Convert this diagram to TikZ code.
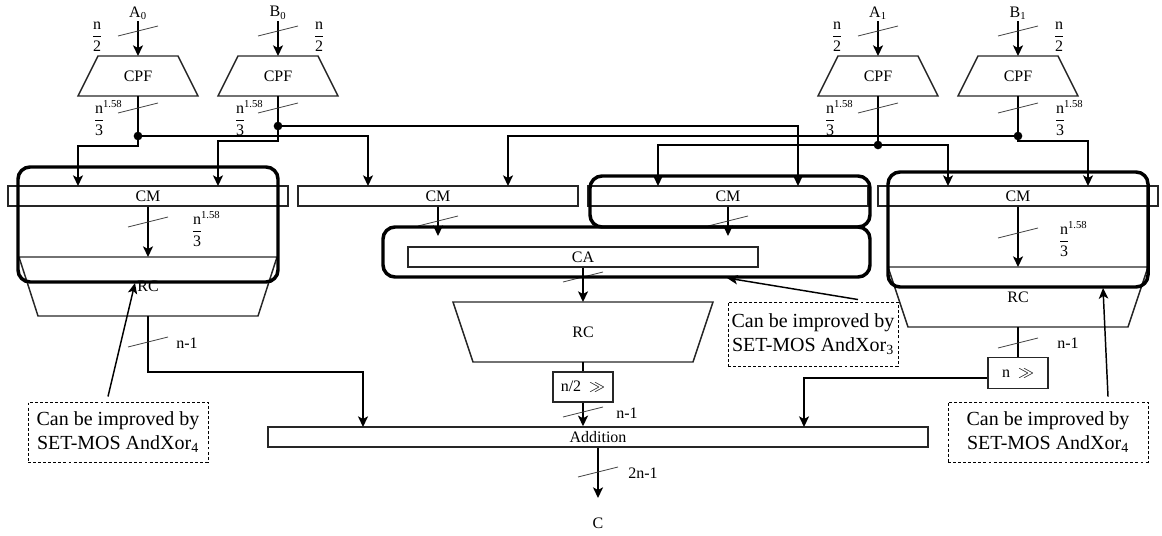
\documentclass[tikz,border=0pt]{standalone}
\usepackage{fontspec}
\setmainfont{Liberation Serif}
\usetikzlibrary{arrows.meta,calc}

\newcommand\lbl{\fontsize{12}{14}\selectfont}
\newcommand\notefont{\fontsize{15}{18}\selectfont}
% n over d, stacked
\newcommand\fr[2]{$\displaystyle\frac{\mbox{#1}}{\mbox{#2}}$}
% n^{1.58} over 3, the exponent hanging past the bar
\newcommand\nexp{$\displaystyle\frac{\mbox{n\rlap{\textsuperscript{1.58}}}}{\mbox{3}}$}
% trapezoid block: name, centre x, top y, bottom y, half top, half bottom, text
\newcommand\trapz[7]{%
  \draw[outline] (#2-#5,#3) -- (#2+#5,#3) -- (#2+#6,#4) -- (#2-#6,#4) -- cycle;
  \node[txt] (#1) at (#2,{(#3+#4)/2}) {#7};
  \coordinate (#1-n) at (#2,#3);
  \coordinate (#1-s) at (#2,#4);}
% bus-width slash across a vertical wire
\newcommand\busmark[2]{\draw[busline] (#1-20,#2+5) -- (#1+20,#2-5);}

\begin{document}
\begin{tikzpicture}[x=0.75pt,y=-0.75pt,
  wire/.style={line width=1.2pt},
  arr/.style={wire,-{Stealth[length=8pt,width=7.5pt,inset=2pt]}},
  outline/.style={draw=black!85,line width=1.1pt},
  box/.style={outline,inner sep=0pt,font=\lbl},
  busline/.style={line width=0.6pt,black!75},
  hl/.style={line width=2.6pt,rounded corners=9pt},
  note/.style={draw,dash pattern=on 2.2pt off 1.6pt,line width=0.7pt,inner sep=0pt,font=\notefont,align=center},
  ptr/.style={line width=1.1pt,-{Stealth[length=8pt,width=7pt,inset=2pt]}},
  dot/.style={circle,fill,inner sep=0pt,minimum size=6.5pt},
  txt/.style={font=\lbl,inner sep=1pt}]

\useasboundingbox (0,0) rectangle (1162,535);

% ---- operand splitters
\trapz{cpfA0}{138}{56}{96}{40}{60}{CPF}
\trapz{cpfB0}{278}{56}{96}{40}{60}{CPF}
\trapz{cpfA1}{878}{56}{96}{40}{60}{CPF}
\trapz{cpfB1}{1018}{56}{96}{40}{60}{CPF}

\node[txt] (lA0) at (138,13) {A\textsubscript{0}};
\node[txt] (lB0) at (278,13) {B\textsubscript{0}};
\node[txt] (lA1) at (878,13) {A\textsubscript{1}};
\node[txt] (lB1) at (1018,13) {B\textsubscript{1}};
\draw[arr] (lA0) -- (cpfA0-n);
\draw[arr] (lB0) -- (cpfB0-n);
\draw[arr] (lA1) -- (cpfA1-n);
\draw[arr] (lB1) -- (cpfB1-n);
\busmark{138}{31}\busmark{278}{31}\busmark{878}{31}\busmark{1018}{31}
\node[txt] (wA0) at (97,37) {\fr{n}{2}};
\node[txt] (wB0) at (319,37) {\fr{n}{2}};
\node[txt] (wA1) at (837,37) {\fr{n}{2}};
\node[txt] (wB1) at (1059,37) {\fr{n}{2}};

% ---- fan-out points
\node[dot] (dA0) at (138,136) {};
\node[dot] (dB0) at (278,126) {};
\node[dot] (dA1) at (878,145) {};
\node[dot] (dB1) at (1018,136) {};
\draw[wire] (cpfA0-s) -- (dA0.center);
\draw[wire] (cpfB0-s) -- (dB0.center);
\draw[wire] (cpfA1-s) -- (dA1.center);
\draw[wire] (cpfB1-s) -- (dB1.center);
\busmark{138}{108}\busmark{278}{108}\busmark{878}{108}\busmark{1018}{108}
\node[txt] (oA0) at (99,118) {\nexp};
\node[txt] (oB0) at (240,118) {\nexp};
\node[txt] (oA1) at (830,118) {\nexp};
\node[txt] (oB1) at (1060,118) {\nexp};

% ---- partial multipliers
\node[box,minimum width=210pt,minimum height=15pt] (cm1) at (148,196) {CM};
\node[box,minimum width=210pt,minimum height=15pt] (cm2) at (438,196) {CM};
\node[box,minimum width=210pt,minimum height=15pt] (cm3) at (728,196) {CM};
\node[box,minimum width=210pt,minimum height=15pt] (cm4) at (1018,196) {CM};
\coordinate (cm1a) at (78,186);  \coordinate (cm1b) at (218,186);
\coordinate (cm2a) at (368,186); \coordinate (cm2b) at (508,186);
\coordinate (cm3a) at (658,186); \coordinate (cm3b) at (798,186);
\coordinate (cm4a) at (948,186); \coordinate (cm4b) at (1088,186);

\draw[arr] (dA0.center) -- ++(0,10) -| (cm1a);
\draw[arr] (dA0.center) -| (cm2a);
\draw[arr] (dB0.center) -- ++(0,15) -| (cm1b);
\draw[arr] (dB0.center) -| (cm3b);
\draw[arr] (dA1.center) -| (cm3a);
\draw[arr] (dA1.center) -| (cm4a);
\draw[arr] (dB1.center) -| (cm2b);
\draw[arr] (dB1.center) -- ++(0,5) -| (cm4b);

% ---- reduction stages
\trapz{rc1}{148}{257}{316}{129}{110}{RC}
\trapz{rc2}{583}{302}{362}{130}{110}{RC}
\trapz{rc4}{1018}{267}{327}{130}{110}{RC}
\node[box,minimum width=262.5pt,minimum height=15pt] (ca) at (583,257) {CA};
\coordinate (caL) at (438,236);
\coordinate (caR) at (728,236);

\draw[arr] (cm1.south) -- (rc1-n);
\draw[arr] (cm2.south) -- (caL);
\draw[arr] (cm3.south) -- (caR);
\draw[arr] (cm4.south) -- (rc4-n);
\draw[arr] (ca.south) -- (rc2-n);
\busmark{148}{222}\busmark{438}{221}\busmark{728}{221}\busmark{1018}{233}\busmark{583}{277}
\node[txt] (oC1) at (197,229) {\nexp};
\node[txt] (oC4) at (1064,239) {\nexp};

% ---- shifters and final adder
\node[box,minimum width=45pt,minimum height=22.5pt] (sh2) at (583,387) {n/2~~$\gg$};
\node[box,minimum width=45pt,minimum height=23pt] (sh1) at (1018,373) {n~~$\gg$};
\node[box,minimum width=495pt,minimum height=15pt] (add) at (598,437) {Addition};
\coordinate (adL) at (363,427);
\coordinate (adR) at (804,427);
\coordinate (cOut) at (598,498);

\draw[wire] (rc2-s) -- (sh2.north);
\draw[wire] (rc4-s) -- (sh1.north);
\draw[arr] (sh2.south) -- (add.north -| sh2.south);
\draw[arr] (rc1-s) -- ++(0,56) -| (adL);
\draw[arr] ([yshift=-3.75pt]sh1.west) -| (adR);
\draw[arr] (add.south) -- (cOut);
\busmark{148}{342}\busmark{1018}{343}\busmark{583}{412}\busmark{598}{472}
\node[txt] (r1) at (187,343) {n-1};
\node[txt] (r4) at (1068,343) {n-1};
\node[txt] (r2) at (627,413) {n-1};
\node[txt] (rs) at (643,473) {2n-1};
\node[txt] (lC) at (598,523) {C};

% ---- highlighted regions
\draw[hl] (18,167) rectangle (278,282);
\draw[hl] (590,176) rectangle (870,227);
\draw[hl] (383,227) rectangle (870,277);
\draw[hl] (888,172) rectangle (1148,287);

% ---- notes
\node[note,minimum width=135pt,minimum height=45pt] (note1) at (118,432) {Can be improved by\\SET-MOS AndXor\textsubscript{4}};
\node[note,minimum width=127.5pt,minimum height=48pt] (note2) at (813,334) {Can be improved by\\SET-MOS AndXor\textsubscript{3}};
\node[note,minimum width=150pt,minimum height=45pt] (note3) at (1048,432) {Can be improved by\\SET-MOS AndXor\textsubscript{4}};
\coordinate (p1) at (135,283);
\coordinate (p2) at (727,278);
\coordinate (p3) at (1103,288);
\draw[ptr] ($(note1.north)+(-10,-5)$) -- (p1);
\draw[ptr] ($(note2.north)+(45,-2)$) -- (p2);
\draw[ptr] ($(note3.north)+(60,-5)$) -- (p3);
\end{tikzpicture}
\end{document}
